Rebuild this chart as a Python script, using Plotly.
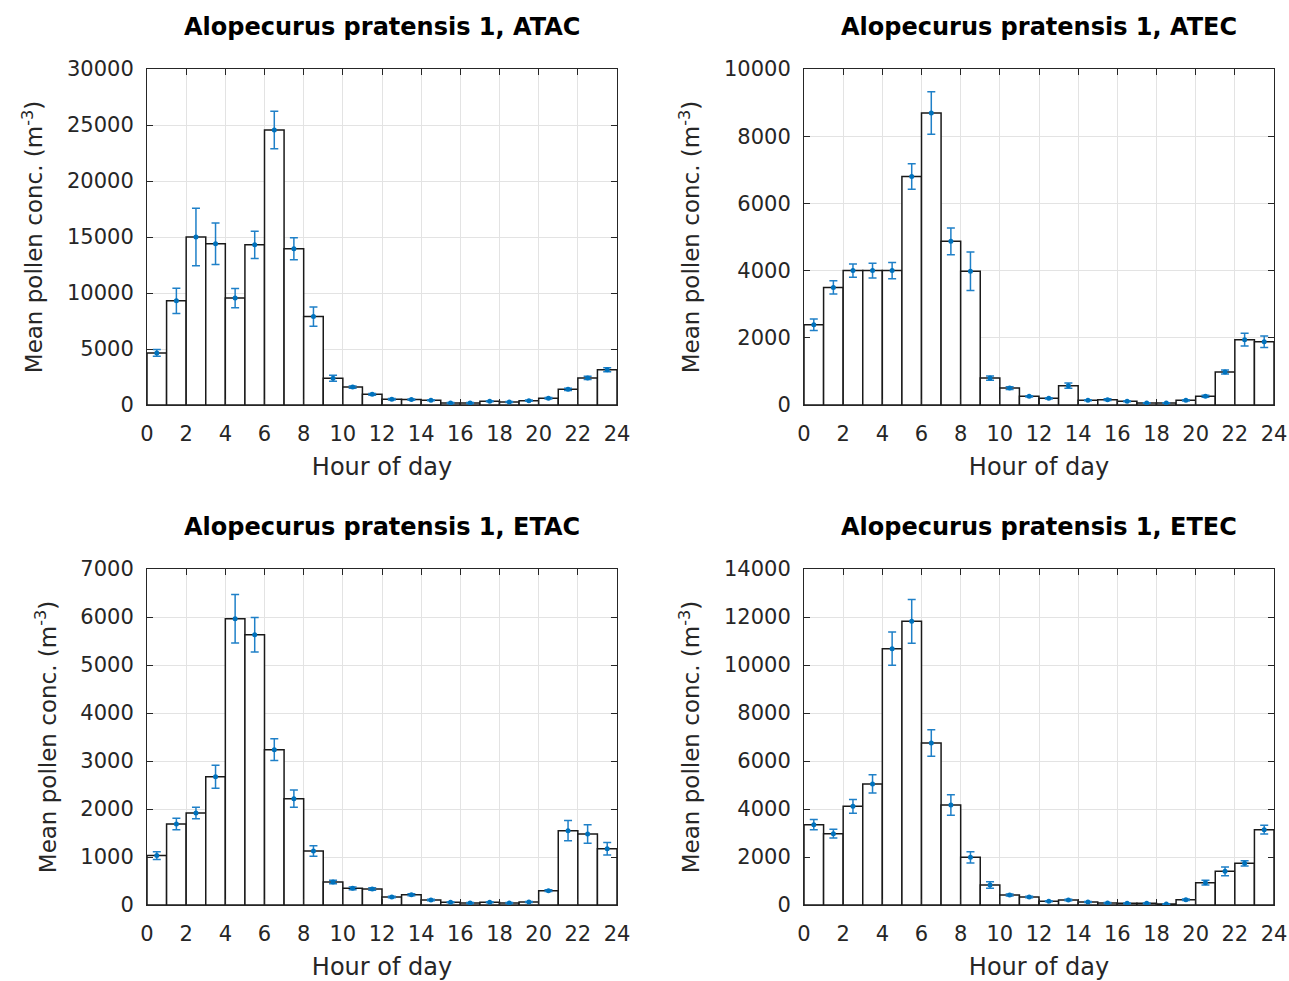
import plotly.graph_objects as go

hours = list(range(24))
x_tick_vals = list(range(0, 25, 2))

titles = ["Alopecurus pratensis 1, ATAC", "Alopecurus pratensis 1, ATEC",
          "Alopecurus pratensis 1, ETAC", "Alopecurus pratensis 1, ETEC"]

atac_mean = [4650, 9300, 15000, 14400, 9550, 14300, 24550, 13950, 7900, 2380, 1600, 950,
             510, 480, 420, 180, 180, 330, 270, 390, 600, 1400, 2420, 3150]
atac_err = [300, 1130, 2560, 1850, 860, 1220, 1670, 980, 860, 270, 100, 70,
            60, 60, 50, 40, 40, 50, 50, 50, 60, 100, 150, 180]

atec_mean = [2390, 3500, 4000, 4000, 4000, 6800, 8690, 4870, 3980, 800, 505, 258,
             198, 575, 139, 159, 109, 60, 60, 139, 258, 982, 1944, 1885]
atec_err = [170, 200, 200, 220, 240, 380, 635, 400, 575, 60, 40, 20,
            20, 80, 15, 25, 15, 10, 10, 20, 30, 60, 190, 170]

etac_mean = [1030, 1687, 1917, 2673, 5965, 5632, 3236, 2215, 1125, 479, 347, 333,
             167, 215, 104, 56, 42, 56, 42, 63, 299, 1549, 1479, 1174]
etac_err = [80, 120, 120, 240, 505, 360, 225, 180, 110, 35, 30, 25,
            15, 20, 15, 10, 10, 10, 10, 10, 20, 210, 195, 130]

etec_mean = [3347, 2972, 4111, 5042, 10681, 11820, 6750, 4167, 1986, 833, 417, 333,
             153, 208, 125, 83, 69, 69, 42, 222, 930, 1403, 1736, 3139]
etec_err = [215, 180, 285, 380, 695, 910, 555, 430, 235, 140, 40, 30,
            20, 30, 20, 20, 15, 15, 10, 30, 100, 185, 110, 180]

y_max = [30000, 10000, 7000, 14000]
y_dtick = [5000, 2000, 1000, 2000]

means = [atac_mean, atec_mean, etac_mean, etec_mean]
errs = [atac_err, atec_err, etac_err, etec_err]

W, H = 1289, 981
ML, MR, MT, MB = 147, 15, 69, 76
PW, PH = W - ML - MR, H - MT - MB
x_dom = [[0, (617 - ML) / PW], [(804 - ML) / PW, 1]]
y_dom = [[(H - MB - 405) / PH, 1], [0, (H - MB - 569) / PH]]

FONT = "DejaVu Sans, Liberation Sans, sans-serif"
TXT = "#262626"
BLUE = "#0072BD"

fig = go.Figure()
layout = dict(
    width=W, height=H, margin=dict(l=ML, r=MR, t=MT, b=MB, autoexpand=False),
    paper_bgcolor="white", plot_bgcolor="white", showlegend=False,
    font=dict(family=FONT, color=TXT, size=21),
    template="none",
)
annotations = []
xc = [h + 0.5 for h in hours]
for i in range(4):
    r, c = divmod(i, 2)
    idx = "" if i == 0 else str(i + 1)
    xa, ya = "x" + idx, "y" + idx
    fig.add_trace(go.Bar(x=xc, y=means[i], width=1, xaxis=xa, yaxis=ya,
                         marker=dict(color="white", line=dict(color="#1a1a1a", width=1.5)),
                         hoverinfo="skip"))
    fig.add_trace(go.Scatter(x=xc, y=means[i], mode="markers", xaxis=xa, yaxis=ya,
                             marker=dict(color=BLUE, size=5),
                             error_y=dict(type="data", array=errs[i], color="#1f80c8",
                                          thickness=1.5, width=4)))
    axis_common = dict(showline=True, linecolor="#262626", linewidth=1, mirror="ticks",
                       ticks="inside", ticklen=6, tickcolor="#262626",
                       showgrid=True, gridcolor="#e3e3e3", gridwidth=1,
                       zeroline=False, automargin=False,
                       tickfont=dict(family=FONT, size=21, color=TXT))
    layout["xaxis" + idx] = dict(domain=x_dom[c], anchor=ya, range=[0, 24],
                                 tickvals=x_tick_vals, ticklabelstandoff=10,
                                 title=dict(text="Hour of day", standoff=12,
                                            font=dict(family=FONT, size=24, color=TXT)),
                                 **axis_common)
    layout["yaxis" + idx] = dict(domain=y_dom[r], anchor=xa, range=[0, y_max[i]],
                                 dtick=y_dtick[i], tick0=0, tickformat="d",
                                 ticklabelstandoff=8,
                                 title=dict(text="Mean pollen conc. (m<sup>-3</sup>)", standoff=17,
                                            font=dict(family=FONT, size=23, color=TXT)),
                                 **axis_common)
    annotations.append(dict(text="<b>" + titles[i] + "</b>", xref="paper", yref="paper",
                            x=(x_dom[c][0] + x_dom[c][1]) / 2, y=y_dom[r][1] + 42 / PH,
                            xanchor="center", yanchor="middle", showarrow=False,
                            font=dict(family=FONT, size=24, color="black")))
layout["annotations"] = annotations
fig.update_layout(**layout)
fig.write_html("out.html")
